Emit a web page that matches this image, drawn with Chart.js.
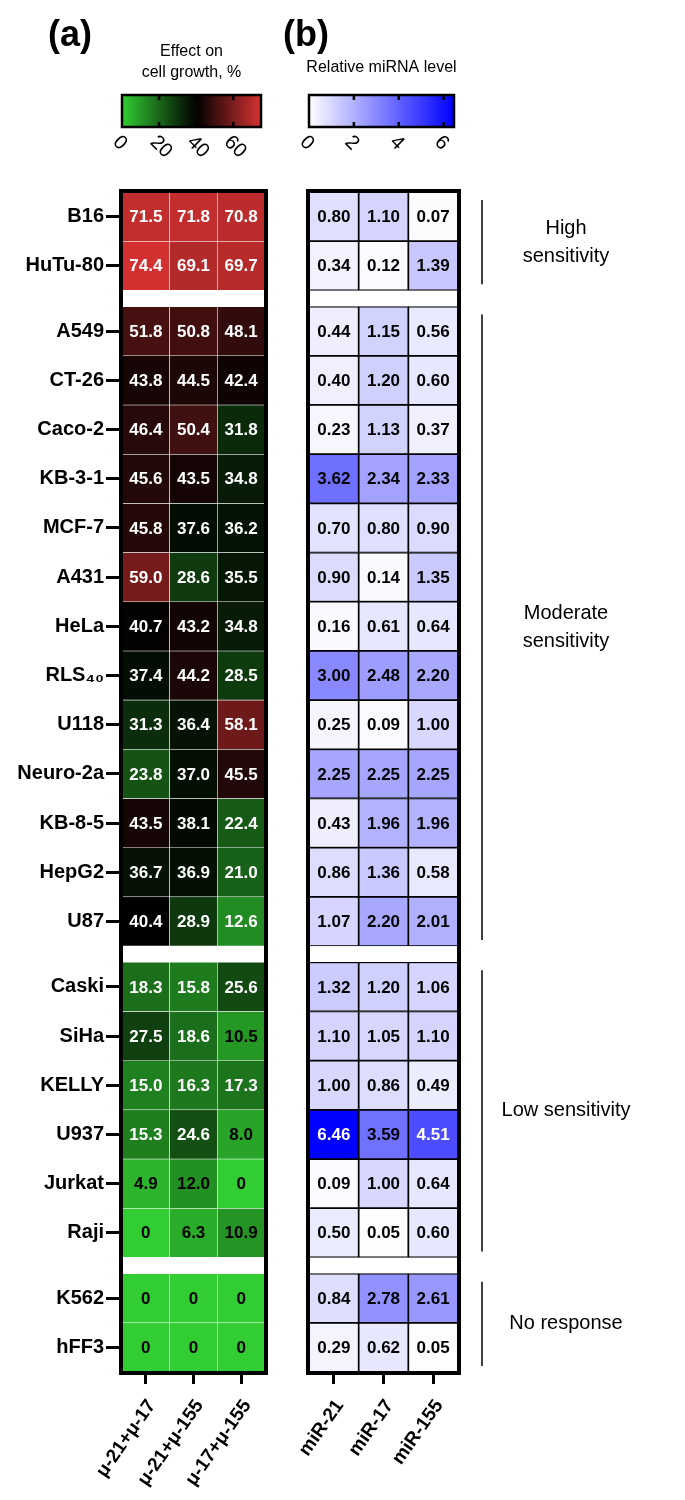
<!DOCTYPE html>
<html>
<head>
<meta charset="utf-8">
<style>
* { margin: 0; padding: 0; }
body { width: 685px; height: 1500px; background: #fff; position: relative; font-family: "Liberation Sans", Arial, sans-serif; }
.box { position: absolute; top: 0; height: 1500px; }
#boxA { left: 0; width: 330px; }
#boxB { left: 290px; width: 395px; }
</style>
</head>
<body>
<div class="box" id="boxA"><canvas id="chartA"></canvas></div>
<div class="box" id="boxB"><canvas id="chartB"></canvas></div>
<script src="https://cdn.jsdelivr.net/npm/chart.js"></script>
<script>
// data
const cellLines = ['B16','HuTu-80','A549','CT-26','Caco-2','KB-3-1','MCF-7','A431','HeLa','RLS₄₀','U118','Neuro-2a','KB-8-5','HepG2','U87','Caski','SiHa','KELLY','U937','Jurkat','Raji','K562','hFF3'];
const groupNames = [['High','sensitivity'], ['Moderate','sensitivity'], ['Low sensitivity'], ['No response']];
const groupSizes = [2, 13, 6, 2];
const comboLabels = ['μ-21+μ-17', 'μ-21+μ-155', 'μ-17+μ-155'];
const mirLabels = ['miR-21', 'miR-17', 'miR-155'];
const growthTicks = [0, 20, 40, 60];
const mirTicks = [0, 2, 4, 6];

const growthEffect = [
  [71.5, 71.8, 70.8], [74.4, 69.1, 69.7],
  [51.8, 50.8, 48.1], [43.8, 44.5, 42.4], [46.4, 50.4, 31.8], [45.6, 43.5, 34.8],
  [45.8, 37.6, 36.2], [59.0, 28.6, 35.5], [40.7, 43.2, 34.8], [37.4, 44.2, 28.5],
  [31.3, 36.4, 58.1], [23.8, 37.0, 45.5], [43.5, 38.1, 22.4], [36.7, 36.9, 21.0],
  [40.4, 28.9, 12.6],
  [18.3, 15.8, 25.6], [27.5, 18.6, 10.5], [15.0, 16.3, 17.3], [15.3, 24.6, 8.0],
  [4.9, 12.0, 0], [0, 6.3, 10.9],
  [0, 0, 0], [0, 0, 0]
];
const mirLevel = [
  [0.80, 1.10, 0.07], [0.34, 0.12, 1.39],
  [0.44, 1.15, 0.56], [0.40, 1.20, 0.60], [0.23, 1.13, 0.37], [3.62, 2.34, 2.33],
  [0.70, 0.80, 0.90], [0.90, 0.14, 1.35], [0.16, 0.61, 0.64], [3.00, 2.48, 2.20],
  [0.25, 0.09, 1.00], [2.25, 2.25, 2.25], [0.43, 1.96, 1.96], [0.86, 1.36, 0.58],
  [1.07, 2.20, 2.01],
  [1.32, 1.20, 1.06], [1.10, 1.05, 1.10], [1.00, 0.86, 0.49], [6.46, 3.59, 4.51],
  [0.09, 1.00, 0.64], [0.50, 0.05, 0.60],
  [0.84, 2.78, 2.61], [0.29, 0.62, 0.05]
];

// row positions: 1 unit per row, small gap between groups
const GAP = 0.33;
const rowPos = [];
const groupSpan = [];
let p = 0;
groupSizes.forEach((n, g) => {
  if (g > 0) p += GAP;
  const start = p;
  for (let i = 0; i < n; i++) { rowPos.push(p); p += 1; }
  groupSpan.push([start - 0.5, p - 0.5]);
});
const yMax = rowPos[rowPos.length - 1] + 0.5;

// colours
const G_MAX = 75, M_MAX = 6.46;
function growthColor(v) {
  if (v <= 40) {
    const t = 1 - v / 40;
    return `rgb(${Math.round(50*t)},${Math.round(205*t)},${Math.round(50*t)})`;
  }
  const t = Math.min(1, (v - 40) / (G_MAX - 40));
  return `rgb(${Math.round(215*t)},${Math.round(50*t)},${Math.round(50*t)})`;
}
function mirColor(v) {
  const t = Math.min(1, v / M_MAX);
  const c = Math.round(255 * (1 - t));
  return `rgb(${c},${c},255)`;
}

function makeDatasets(values, colorFn, border, bw) {
  return values.map((row, i) => ({
    data: row.map(() => [rowPos[i] - 0.5, rowPos[i] + 0.5]),
    backgroundColor: row.map(colorFn),
    borderColor: border,
    borderWidth: bw,
    borderSkipped: false,
    grouped: false,
    categoryPercentage: 1,
    barPercentage: 1
  }));
}

const boldFont = '"Liberation Sans", Arial, sans-serif';

function cellText(values, fmt, textColor, labels) {
  return {
    id: 'cellText',
    afterDatasetsDraw(chart) {
      const ctx = chart.ctx;
      ctx.save();
      ctx.font = 'bold 17px ' + boldFont;
      ctx.textAlign = 'center';
      ctx.textBaseline = 'middle';
      values.forEach((row, i) => {
        const meta = chart.getDatasetMeta(i);
        row.forEach((v, j) => {
          const el = meta.data[j];
          ctx.fillStyle = textColor(v);
          ctx.fillText(fmt(v), el.x, (el.y + el.base) / 2 + 1);
        });
      });
      // heavy frame
      const a = chart.chartArea;
      ctx.strokeStyle = '#000';
      ctx.lineWidth = 4;
      ctx.strokeRect(a.left - 1, a.top - 1, a.right - a.left + 2, a.bottom - a.top + 2);
      // rotated column labels
      const xs = chart.scales.x;
      ctx.fillStyle = '#000';
      ctx.font = 'bold 19px ' + boldFont;
      ctx.textAlign = 'right';
      ctx.textBaseline = 'middle';
      labels.forEach((l, j) => {
        ctx.save();
        ctx.translate(xs.getPixelForValue(j) + 6, a.bottom + 30);
        ctx.rotate(-55 * Math.PI / 180);
        ctx.fillText(l, 0, 0);
        ctx.restore();
      });
      ctx.restore();
    }
  };
}

function colorBar(opts) {
  return {
    id: 'colorBar',
    afterDraw(chart) {
      const ctx = chart.ctx;
      const a = chart.chartArea;
      const x0 = a.left, x1 = a.right - 4, y0 = 95, y1 = 127;
      ctx.save();
      const grad = ctx.createLinearGradient(x0, 0, x1, 0);
      for (let k = 0; k <= 20; k++) grad.addColorStop(k / 20, opts.color(opts.max * k / 20));
      ctx.fillStyle = grad;
      ctx.fillRect(x0, y0, x1 - x0, y1 - y0);
      ctx.strokeStyle = '#000';
      ctx.lineWidth = 2.5;
      ctx.strokeRect(x0, y0, x1 - x0, y1 - y0);
      ctx.font = '20px ' + boldFont;
      ctx.fillStyle = '#000';
      opts.ticks.forEach(t => {
        const x = x0 + (x1 - x0) * t / opts.max;
        if (t > 0) {
          ctx.lineWidth = 2.5;
          ctx.beginPath();
          ctx.moveTo(x, y0); ctx.lineTo(x, y0 + 5);
          ctx.moveTo(x, y1); ctx.lineTo(x, y1 - 5);
          ctx.stroke();
        }
        ctx.save();
        ctx.translate(x - 6, y1 + 12);
        ctx.rotate(Math.PI / 4);
        ctx.textAlign = 'left';
        ctx.textBaseline = 'middle';
        ctx.fillText(String(t), 0, 0);
        ctx.restore();
      });
      // panel letters and title
      ctx.font = 'bold 36px ' + boldFont;
      ctx.textAlign = 'left';
      ctx.textBaseline = 'middle';
      opts.letters.forEach(([l, lx]) => ctx.fillText(l, lx, 36));
      ctx.font = '16px ' + boldFont;
      ctx.textAlign = 'center';
      opts.title.forEach((line, k) => ctx.fillText(line, (x0 + x1) / 2, opts.titleY + k * 21));
      ctx.restore();
    }
  };
}

const groupNotes = {
  id: 'groupNotes',
  afterDraw(chart) {
    const ctx = chart.ctx;
    const ys = chart.scales.y;
    const lx = chart.chartArea.right + 24;
    const tx = chart.chartArea.right + 108;
    ctx.save();
    ctx.strokeStyle = '#000';
    ctx.lineWidth = 1.5;
    ctx.fillStyle = '#000';
    ctx.font = '20px ' + boldFont;
    ctx.textAlign = 'center';
    ctx.textBaseline = 'middle';
    groupSpan.forEach((s, g) => {
      const top = ys.getPixelForValue(s[0]) + 8;
      const bot = ys.getPixelForValue(s[1]) - 6;
      ctx.beginPath();
      ctx.moveTo(lx, top); ctx.lineTo(lx, bot);
      ctx.stroke();
      const mid = (top + bot) / 2;
      const lines = groupNames[g];
      lines.forEach((t, k) => ctx.fillText(t, tx, mid + (k - (lines.length - 1) / 2) * 28));
    });
    ctx.restore();
  }
};

function baseOptions(labels, showYLabels, yWidth, padRight) {
  return {
    responsive: true,
    maintainAspectRatio: false,
    animation: false,
    layout: { padding: { top: 192, right: padRight, left: 0, bottom: 0 } },
    plugins: { legend: { display: false }, tooltip: { enabled: false } },
    scales: {
      x: {
        type: 'category',
        labels: labels,
        grid: { drawOnChartArea: false, offset: false, tickLength: 12, tickWidth: 3, tickColor: '#000' },
        border: { display: false },
        ticks: { display: false },
        afterFit: s => { s.height = 128; }
      },
      y: {
        type: 'linear',
        reverse: true,
        min: -0.5,
        max: yMax,
        afterBuildTicks: s => { s.ticks = rowPos.map(v => ({ value: v })); },
        afterFit: s => { s.width = yWidth; },
        grid: { display: showYLabels, drawOnChartArea: false, tickLength: 16, tickWidth: 3, tickColor: '#000' },
        border: { display: false },
        ticks: {
          display: showYLabels,
          autoSkip: false,
          color: '#000',
          padding: 2,
          font: { size: 20, weight: 'bold', family: boldFont },
          callback: (v, i) => cellLines[i]
        }
      }
    }
  };
}

new Chart(document.getElementById('chartA'), {
  type: 'bar',
  data: { labels: comboLabels, datasets: makeDatasets(growthEffect, growthColor, 'rgba(255,255,255,0.85)', 0.6) },
  options: baseOptions(comboLabels, true, 122, 65),
  plugins: [
    cellText(growthEffect, v => (v === 0 ? '0' : v.toFixed(1)), v => (v >= 12.3 ? '#fff' : '#000'), comboLabels),
    colorBar({ color: growthColor, max: G_MAX, ticks: growthTicks, letters: [['(a)', 48], ['(b)', 283]], title: ['Effect on', 'cell growth, %'], titleY: 52 })
  ]
});

new Chart(document.getElementById('chartB'), {
  type: 'bar',
  data: { labels: mirLabels, datasets: makeDatasets(mirLevel, mirColor, '#000', 1.2) },
  options: baseOptions(mirLabels, false, 19, 227),
  plugins: [
    cellText(mirLevel, v => v.toFixed(2), v => (v > 4 ? '#fff' : '#000'), mirLabels),
    colorBar({ color: mirColor, max: M_MAX, ticks: mirTicks, letters: [], title: ['Relative miRNA level'], titleY: 68 }),
    groupNotes
  ]
});
</script>
</body>
</html>
